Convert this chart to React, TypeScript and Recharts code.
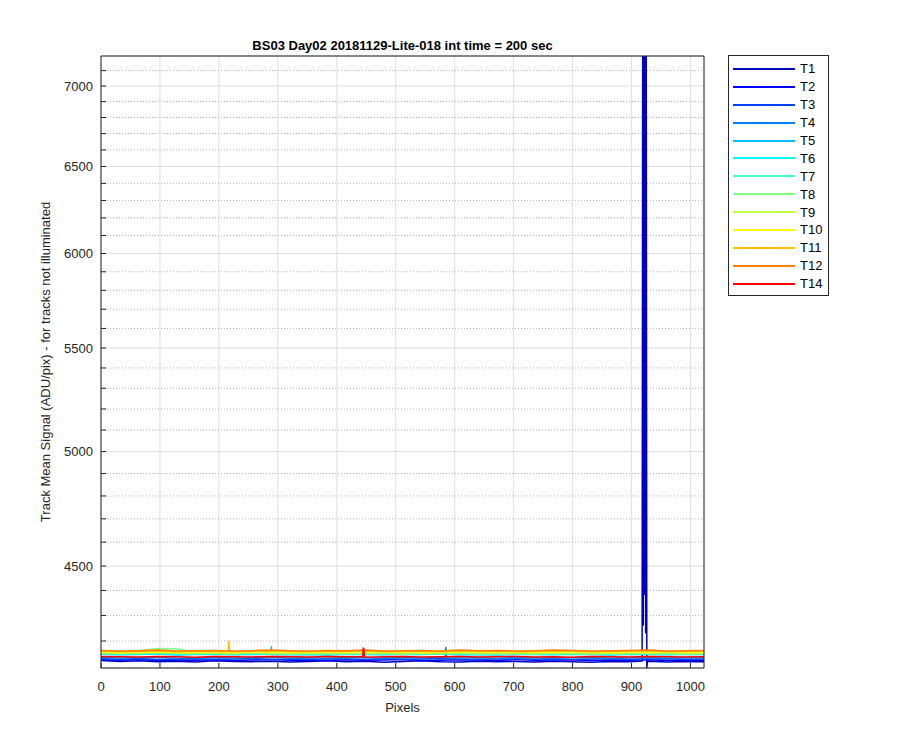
import { LineChart, Line, XAxis, YAxis, CartesianGrid, Legend } from 'recharts';

// pixel positions sampled along the track
const PIXELS = [0, 32, 64, 96, 128, 160, 192, 224, 256, 288, 320, 352, 384, 416, 448, 480, 512, 544, 576, 608, 640, 672, 704, 736, 768, 800, 832, 864, 896, 928, 960, 992, 1023];

const T1 = [4125, 4122, 4124, 4121, 4123, 4120, 4124, 4122, 4121, 4123, 4120, 4122, 4124, 4121, 4123, 4119, 4122, 4124, 4121, 4120, 4123, 4121, 4122, 4120, 4123, 4121, 4119, 4122, 4121, 4123, 4120, 4122, 4121];
const T2 = [4128, 4126, 4129, 4125, 4127, 4126, 4128, 4125, 4127, 4129, 4126, 4127, 4125, 4128, 4126, 4127, 4129, 4125, 4126, 4128, 4127, 4125, 4129, 4126, 4127, 4128, 4125, 4127, 4126, 4128, 4125, 4127, 4126];
const T3 = [4132, 4130, 4133, 4129, 4131, 4132, 4130, 4131, 4133, 4129, 4131, 4130, 4132, 4131, 4129, 4132, 4130, 4131, 4133, 4130, 4129, 4132, 4131, 4130, 4132, 4129, 4131, 4133, 4130, 4131, 4132, 4130, 4131];
const T4 = [4137, 4135, 4136, 4138, 4134, 4136, 4137, 4135, 4136, 4138, 4135, 4136, 4134, 4137, 4136, 4135, 4137, 4136, 4138, 4135, 4136, 4134, 4137, 4136, 4135, 4137, 4136, 4134, 4137, 4136, 4135, 4137, 4136];
const T5 = [4149, 4147, 4148, 4150, 4146, 4148, 4149, 4147, 4148, 4150, 4147, 4148, 4146, 4149, 4148, 4147, 4149, 4148, 4150, 4147, 4148, 4146, 4149, 4148, 4147, 4149, 4148, 4146, 4149, 4148, 4147, 4149, 4148];
const T6 = [4151, 4149, 4150, 4152, 4148, 4150, 4151, 4149, 4150, 4152, 4149, 4150, 4148, 4151, 4150, 4149, 4151, 4150, 4152, 4149, 4150, 4148, 4151, 4150, 4149, 4151, 4150, 4148, 4151, 4150, 4149, 4151, 4150];
const T7 = [4152, 4151, 4150, 4153, 4151, 4150, 4152, 4151, 4153, 4150, 4152, 4151, 4150, 4152, 4153, 4151, 4150, 4152, 4151, 4153, 4150, 4151, 4152, 4150, 4153, 4151, 4152, 4150, 4151, 4153, 4152, 4150, 4151];
const T8 = [4152, 4155, 4163, 4171, 4170, 4157, 4152, 4151, 4153, 4152, 4150, 4153, 4152, 4151, 4153, 4152, 4150, 4153, 4151, 4152, 4153, 4150, 4152, 4151, 4153, 4152, 4150, 4152, 4153, 4151, 4152, 4150, 4152];
const T9 = [4155, 4153, 4154, 4156, 4153, 4155, 4154, 4153, 4156, 4154, 4153, 4155, 4154, 4156, 4153, 4154, 4155, 4153, 4154, 4156, 4155, 4153, 4154, 4155, 4153, 4156, 4154, 4153, 4155, 4154, 4156, 4153, 4154];
const T10 = [4158, 4156, 4157, 4159, 4156, 4157, 4158, 4156, 4157, 4159, 4156, 4158, 4157, 4156, 4159, 4157, 4158, 4156, 4157, 4159, 4156, 4158, 4157, 4156, 4158, 4159, 4157, 4156, 4158, 4157, 4159, 4156, 4157];
const T11 = [4161, 4159, 4160, 4162, 4159, 4160, 4161, 4159, 4160, 4162, 4160, 4159, 4161, 4160, 4162, 4159, 4160, 4161, 4159, 4162, 4160, 4161, 4159, 4160, 4162, 4161, 4159, 4160, 4161, 4162, 4159, 4160, 4161];
const T12 = [4164, 4162, 4163, 4165, 4162, 4163, 4164, 4162, 4163, 4165, 4163, 4162, 4164, 4163, 4165, 4162, 4163, 4164, 4162, 4165, 4163, 4164, 4162, 4163, 4165, 4164, 4162, 4163, 4164, 4165, 4162, 4163, 4164];
const T14 = [4141, 4140, 4139, 4141, 4140, 4138, 4141, 4140, 4139, 4141, 4140, 4139, 4141, 4140, 4138, 4140, 4141, 4139, 4140, 4141, 4139, 4140, 4141, 4139, 4140, 4138, 4141, 4140, 4139, 4141, 4140, 4139, 4140];

// isolated spikes: [pixel, value]
const T1_SPIKE = [[918, 4123], [919, 7196], [920, 4260], [921, 7196], [922, 4382], [923, 7196], [924, 4230], [925, 7196], [926, 4097], [927, 4122]];
const T4_SPIKE = [[584, 4136], [585, 4177], [586, 4136]];
const T5_SPIKE = [[289, 4180], [290, 4148]];
const T11_SPIKE = [[216, 4160], [217, 4200], [218, 4160]];
const T14_SPIKE = [[444, 4140], [445, 4172], [446, 4170], [447, 4140]];

const X_TICKS = [0, 100, 200, 300, 400, 500, 600, 700, 800, 900, 1000];
const Y_MAJOR = [4500, 5000, 5500, 6000, 6500, 7000];
const Y_MINOR = [4200, 4300, 4400, 4600, 4700, 4800, 4900, 5100, 5200, 5300, 5400, 5600, 5700, 5800, 5900, 6100, 6200, 6300, 6400, 6600, 6700, 6800, 6900, 7100];
const Y_ALL = [...Y_MINOR, ...Y_MAJOR].sort((a, b) => a - b);
const Y_DOMAIN = [4097, 7196];

const SERIES = [
  { name: 'T1', color: '#0000BF', values: T1, spikes: T1_SPIKE },
  { name: 'T2', color: '#0000FF', values: T2, spikes: [] },
  { name: 'T3', color: '#0040FF', values: T3, spikes: [] },
  { name: 'T4', color: '#0080FF', values: T4, spikes: T4_SPIKE },
  { name: 'T5', color: '#00BFFF', values: T5, spikes: T5_SPIKE },
  { name: 'T6', color: '#00FFFF', values: T6, spikes: [] },
  { name: 'T7', color: '#40FFBF', values: T7, spikes: [] },
  { name: 'T8', color: '#80FF80', values: T8, spikes: [] },
  { name: 'T9', color: '#BFFF40', values: T9, spikes: [] },
  { name: 'T10', color: '#FFFF00', values: T10, spikes: [] },
  { name: 'T11', color: '#FFBF00', values: T11, spikes: T11_SPIKE },
  { name: 'T12', color: '#FF8000', values: T12, spikes: [] },
  { name: 'T14', color: '#FF0000', values: T14, spikes: T14_SPIKE },
];

function buildPoints(values: number[], spikes: number[][]) {
  const pts = PIXELS.map((px, i) => ({ px, v: values[i] }));
  spikes.forEach(([px, v]) => pts.push({ px, v }));
  return pts.sort((a, b) => a.px - b.px);
}

const seriesOrder = (name: string) => SERIES.findIndex((s) => s.name === name);

const AXIS_COLOR = '#262626';
const tickStyle = { fontSize: 13, fill: AXIS_COLOR };

function LegendBox({ payload }: any) {
  const items = [...(payload || [])].sort((a: any, b: any) => seriesOrder(a.value) - seriesOrder(b.value));
  return (
    <div style={{ border: `1px solid ${AXIS_COLOR}`, background: '#fff', boxSizing: 'border-box', width: 101, height: 241, paddingTop: 4 }}>
      {items.map((item: any) => (
        <div key={item.value} style={{ display: 'flex', alignItems: 'center', height: 17.9 }}>
          <span style={{ display: 'inline-block', width: 62, height: 2, marginLeft: 4, marginRight: 5, background: item.color }} />
          <span style={{ fontSize: 13, color: '#000' }}>{item.value}</span>
        </div>
      ))}
    </div>
  );
}

export default function App() {
  return (
    <div style={{ width: 892, height: 742, background: '#fff', fontFamily: '"Liberation Sans", Arial, sans-serif' }}>
      <LineChart width={892} height={742} margin={{ top: 47, right: 195, bottom: 52, left: 33 }}>
        <YAxis yAxisId="major" hide scale="log" type="number" domain={Y_DOMAIN} allowDataOverflow ticks={Y_MAJOR} interval={0} />
        <YAxis yAxisId="minor" hide scale="log" type="number" domain={Y_DOMAIN} allowDataOverflow ticks={Y_MINOR} interval={0} />
        <CartesianGrid xAxisId="b" yAxisId="major" stroke="#dfdfdf" strokeWidth={1} />
        <CartesianGrid xAxisId="b" yAxisId="minor" vertical={false} stroke="#b4b4b4" strokeDasharray="1 2" />
        <XAxis
          xAxisId="b"
          dataKey="px"
          type="number"
          domain={[0, 1023]}
          allowDataOverflow
          ticks={X_TICKS}
          interval={0}
          height={30}
          tickSize={-5}
          tickMargin={19}
          tick={tickStyle}
          stroke={AXIS_COLOR}
          label={{ value: 'Pixels', position: 'bottom', offset: 5, fontSize: 13, fill: AXIS_COLOR }}
        />
        <XAxis
          xAxisId="t"
          orientation="top"
          dataKey="px"
          type="number"
          domain={[0, 1023]}
          allowDataOverflow
          ticks={X_TICKS}
          interval={0}
          height={1}
          tickSize={-5}
          tick={false}
          stroke={AXIS_COLOR}
          label={{ value: 'BS03 Day02 20181129-Lite-018 int time = 200 sec', position: 'top', offset: 5, fontSize: 13, fontWeight: 'bold', fill: '#000' }}
        />
        <YAxis
          yAxisId="l"
          scale="log"
          type="number"
          domain={Y_DOMAIN}
          allowDataOverflow
          ticks={Y_ALL}
          interval={0}
          width={60}
          tickSize={-5}
          tickMargin={13}
          tick={tickStyle}
          tickFormatter={(v: number) => (v % 500 === 0 ? String(v) : '')}
          stroke={AXIS_COLOR}
          label={{ value: 'Track Mean Signal (ADU/pix) - for tracks not illuminated', angle: -90, position: 'insideLeft', offset: 4, fontSize: 13, fill: AXIS_COLOR, style: { textAnchor: 'middle' } }}
        />
        <YAxis
          yAxisId="r"
          orientation="right"
          scale="log"
          type="number"
          domain={Y_DOMAIN}
          allowDataOverflow
          ticks={Y_ALL}
          interval={0}
          width={1}
          tickSize={-5}
          tick={false}
          stroke={AXIS_COLOR}
        />
        <Legend
          layout="vertical"
          align="center"
          verticalAlign="middle"
          itemSorter={(item: any) => seriesOrder(item.value)}
          content={<LegendBox />}
          wrapperStyle={{ left: 720, top: 47, width: 101, height: 241 }}
        />
        {SERIES.map((s) => (
          <Line
            key={s.name}
            name={s.name}
            data={buildPoints(s.values, s.spikes)}
            dataKey="v"
            xAxisId="b"
            yAxisId="l"
            stroke={s.color}
            strokeWidth={1.5}
            dot={false}
            isAnimationActive={false}
          />
        ))}
      </LineChart>
    </div>
  );
}
